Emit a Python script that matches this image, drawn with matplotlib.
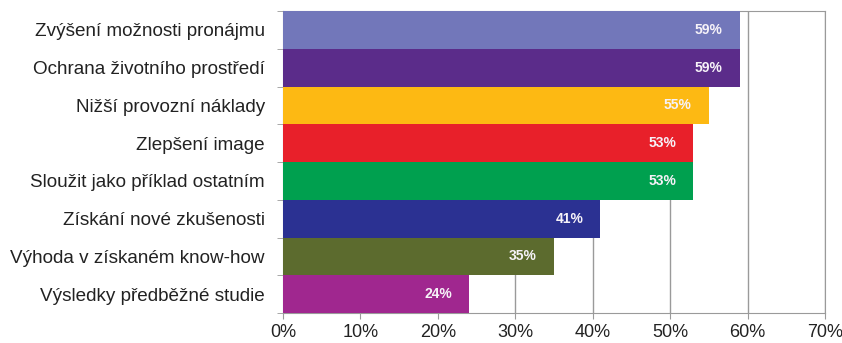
import numpy as np
import matplotlib.pyplot as plt
from matplotlib.ticker import FixedLocator

# data, top to bottom as in the chart
categories = [
    "Zvýšení možnosti pronájmu",
    "Ochrana životního prostředí",
    "Nižší provozní náklady",
    "Zlepšení image",
    "Sloužit jako příklad ostatním",
    "Získání nové zkušenosti",
    "Výhoda v získaném know-how",
    "Výsledky předběžné studie",
]
values = [59, 59, 55, 53, 53, 41, 35, 24]
bar_colors = ["#7277BA", "#5B2C8A", "#FDB913", "#E8202A",
              "#00A04F", "#2B3192", "#5C6B2E", "#A0278F"]
x_ticks = [0, 10, 20, 30, 40, 50, 60, 70]

plt.rcParams["font.family"] = ["Liberation Sans", "DejaVu Sans"]

fig = plt.figure(figsize=(8.42, 3.43), dpi=100)
# axes box in pixels: left 283, right 825, top 11, bottom 313
ax = fig.add_axes([283 / 842, 30 / 343, 542 / 842, 302 / 343])

y = np.arange(len(categories))[::-1]
ax.barh(y, values, height=1.0, color=bar_colors, zorder=2)

for yi, v in zip(y, values):
    ax.text(v - 2.2, yi, f"{v}%", ha="right", va="center",
            color="#f6f2f8", fontsize=10, fontweight="bold", zorder=3)

ax.set_xlim(0, 70)
ax.set_ylim(-0.5, len(categories) - 0.5)
ax.set_xticks(x_ticks)
ax.set_xticklabels([f"{t}%" for t in x_ticks], fontsize=13, color="#222222")
ax.xaxis.grid(True, color="#9a9a9a", linewidth=1.0, zorder=0)
ax.set_axisbelow(True)

ax.set_yticks(y)
ax.set_yticklabels(categories, fontsize=13.6, color="#222222")
ax.tick_params(axis="y", which="major", length=0, pad=13)
ax.yaxis.set_minor_locator(FixedLocator(np.arange(-0.5, len(categories), 1.0)))
ax.tick_params(axis="y", which="minor", length=4, color="#9a9a9a")
ax.tick_params(axis="x", length=4, color="#9a9a9a", pad=4)

for side in ["top", "right", "left", "bottom"]:
    ax.spines[side].set_color("#9a9a9a")
    ax.spines[side].set_zorder(1)

fig.savefig("out.png", dpi=100)
